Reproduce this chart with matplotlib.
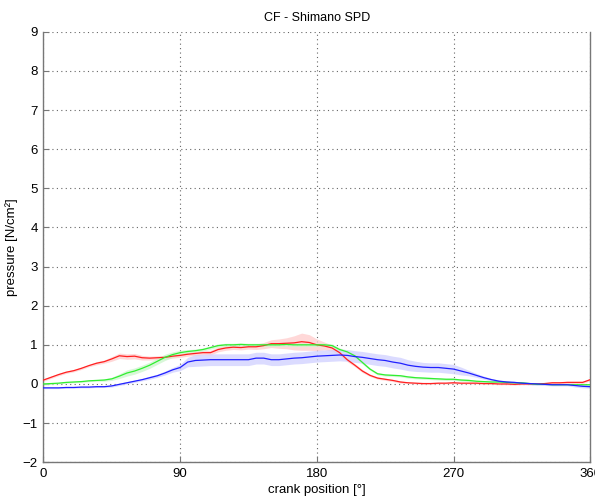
import matplotlib
matplotlib.use("Agg")
import matplotlib.pyplot as plt
import numpy as np

plt.rcParams['font.family'] = ['Liberation Sans', 'DejaVu Sans']

angles = list(range(0, 361, 5))

red = [0.10, 0.17, 0.24, 0.30, 0.34, 0.40, 0.47, 0.53, 0.57, 0.64,
       0.72, 0.70, 0.71, 0.67, 0.66, 0.67, 0.68, 0.71, 0.73, 0.76,
       0.78, 0.80, 0.80, 0.88, 0.92, 0.94, 0.93, 0.95, 0.95, 0.98,
       1.03, 1.03, 1.04, 1.05, 1.08, 1.06, 1.00, 0.97, 0.92, 0.80,
       0.62, 0.48, 0.33, 0.22, 0.15, 0.12, 0.09, 0.05, 0.03, 0.02,
       0.01, 0.01, 0.02, 0.02, 0.03, 0.02, 0.02, 0.02, 0.01, 0.01,
       0.00, 0.00, -0.01, 0.00, 0.00, 0.00, 0.01, 0.03, 0.03, 0.04,
       0.04, 0.04, 0.11]
red_sd = [0.03, 0.03, 0.03, 0.03, 0.03, 0.03, 0.03, 0.04, 0.04, 0.06,
          0.07, 0.07, 0.07, 0.06, 0.05, 0.05, 0.05, 0.05, 0.05, 0.05,
          0.05, 0.05, 0.06, 0.06, 0.06, 0.06, 0.06, 0.06, 0.07, 0.08,
          0.10, 0.12, 0.14, 0.18, 0.22, 0.20, 0.15, 0.10, 0.08, 0.06,
          0.05, 0.04, 0.04, 0.03, 0.03, 0.03, 0.03, 0.03, 0.02, 0.02,
          0.02, 0.02, 0.02, 0.02, 0.02, 0.02, 0.02, 0.02, 0.02, 0.02,
          0.02, 0.02, 0.02, 0.02, 0.02, 0.02, 0.02, 0.03, 0.03, 0.03,
          0.03, 0.03, 0.03]

green = [0.00, 0.01, 0.02, 0.04, 0.05, 0.06, 0.08, 0.09, 0.10, 0.13,
         0.20, 0.28, 0.33, 0.40, 0.48, 0.58, 0.68, 0.75, 0.80, 0.83,
         0.85, 0.88, 0.93, 0.98, 1.00, 1.00, 1.01, 1.00, 1.00, 1.00,
         1.00, 1.00, 1.01, 1.00, 1.00, 1.00, 1.00, 1.00, 0.98, 0.88,
         0.82, 0.72, 0.55, 0.38, 0.26, 0.23, 0.22, 0.21, 0.18, 0.16,
         0.15, 0.14, 0.13, 0.12, 0.12, 0.10, 0.09, 0.07, 0.06, 0.05,
         0.05, 0.04, 0.03, 0.03, 0.01, -0.01, -0.01, -0.02, -0.02, -0.02,
         -0.02, -0.02, -0.02]
green_sd = [0.02, 0.02, 0.02, 0.02, 0.02, 0.02, 0.02, 0.02, 0.03, 0.04,
            0.06, 0.08, 0.08, 0.08, 0.08, 0.08, 0.08, 0.07, 0.06, 0.05,
            0.04, 0.04, 0.04, 0.04, 0.04, 0.04, 0.04, 0.04, 0.04, 0.04,
            0.04, 0.04, 0.04, 0.04, 0.04, 0.04, 0.04, 0.04, 0.04, 0.04,
            0.04, 0.04, 0.04, 0.03, 0.03, 0.03, 0.03, 0.03, 0.03, 0.03,
            0.03, 0.03, 0.03, 0.03, 0.03, 0.03, 0.03, 0.02, 0.02, 0.02,
            0.02, 0.02, 0.02, 0.02, 0.02, 0.02, 0.02, 0.02, 0.02, 0.02,
            0.02, 0.02, 0.02]

blue = [-0.10, -0.10, -0.10, -0.09, -0.09, -0.08, -0.08, -0.07, -0.07, -0.05,
        -0.01, 0.03, 0.07, 0.11, 0.16, 0.21, 0.28, 0.36, 0.42, 0.56,
        0.60, 0.61, 0.62, 0.62, 0.62, 0.62, 0.62, 0.62, 0.66, 0.66,
        0.62, 0.62, 0.64, 0.66, 0.67, 0.69, 0.71, 0.72, 0.73, 0.74,
        0.73, 0.70, 0.68, 0.65, 0.62, 0.60, 0.56, 0.53, 0.48, 0.45,
        0.43, 0.42, 0.42, 0.40, 0.38, 0.33, 0.28, 0.22, 0.16, 0.11,
        0.07, 0.05, 0.04, 0.02, 0.01, 0.00, -0.01, -0.02, -0.02, -0.02,
        -0.04, -0.06, -0.07]
blue_sd = [0.02, 0.02, 0.02, 0.02, 0.02, 0.02, 0.02, 0.02, 0.02, 0.03,
           0.03, 0.03, 0.03, 0.03, 0.04, 0.04, 0.05, 0.06, 0.08, 0.12,
           0.15, 0.15, 0.15, 0.15, 0.15, 0.15, 0.15, 0.15, 0.15, 0.15,
           0.15, 0.15, 0.15, 0.15, 0.15, 0.15, 0.15, 0.15, 0.15, 0.15,
           0.15, 0.15, 0.15, 0.15, 0.15, 0.15, 0.15, 0.15, 0.14, 0.13,
           0.12, 0.12, 0.12, 0.12, 0.12, 0.10, 0.07, 0.05, 0.04, 0.03,
           0.03, 0.03, 0.03, 0.03, 0.03, 0.03, 0.03, 0.03, 0.03, 0.03,
           0.04, 0.04, 0.04]

xticks = [0, 90, 180, 270, 360]
yticks = list(range(-2, 10))

fig = plt.figure(figsize=(5.95, 4.97), dpi=100)
ax = fig.add_axes([0.073, 0.070, 0.919, 0.866])

x = np.array(angles)
for mean, sd, band in [(red, red_sd, '#ffcccc'),
                       (green, green_sd, '#ccf5cc'),
                       (blue, blue_sd, '#d0d0ff')]:
    m = np.array(mean); s = np.array(sd)
    ax.fill_between(x, m - s, m + s, color=band, alpha=0.75, linewidth=0, zorder=2)
for mean, col in [(red, '#ff2020'), (green, '#30ee30'), (blue, '#2020ff')]:
    ax.plot(x, mean, color=col, linewidth=0.9, zorder=3)

ax.set_xlim(0, 360)
ax.set_ylim(-2, 9)
ax.set_xticks(xticks)
ax.set_yticks(yticks)
ax.grid(True, linestyle=(0, (1, 3)), color='#666666', linewidth=0.8)
ax.set_axisbelow(True)
ax.spines['top'].set_visible(False)
for sp in ['left', 'bottom', 'right']:
    ax.spines[sp].set_color('#777777')
    ax.spines[sp].set_linewidth(1.0)
ax.tick_params(direction='in', length=4, colors='#777777', labelcolor='black',
               labelsize=9.5, pad=4)
ax.set_title('CF - Shimano SPD', fontsize=9, pad=8)
ax.set_xlabel('crank position [°]', fontsize=9.5, labelpad=3)
ax.set_ylabel('pressure [N/cm²]', fontsize=9.5, labelpad=3)

fig.savefig('out.png', dpi=100)
